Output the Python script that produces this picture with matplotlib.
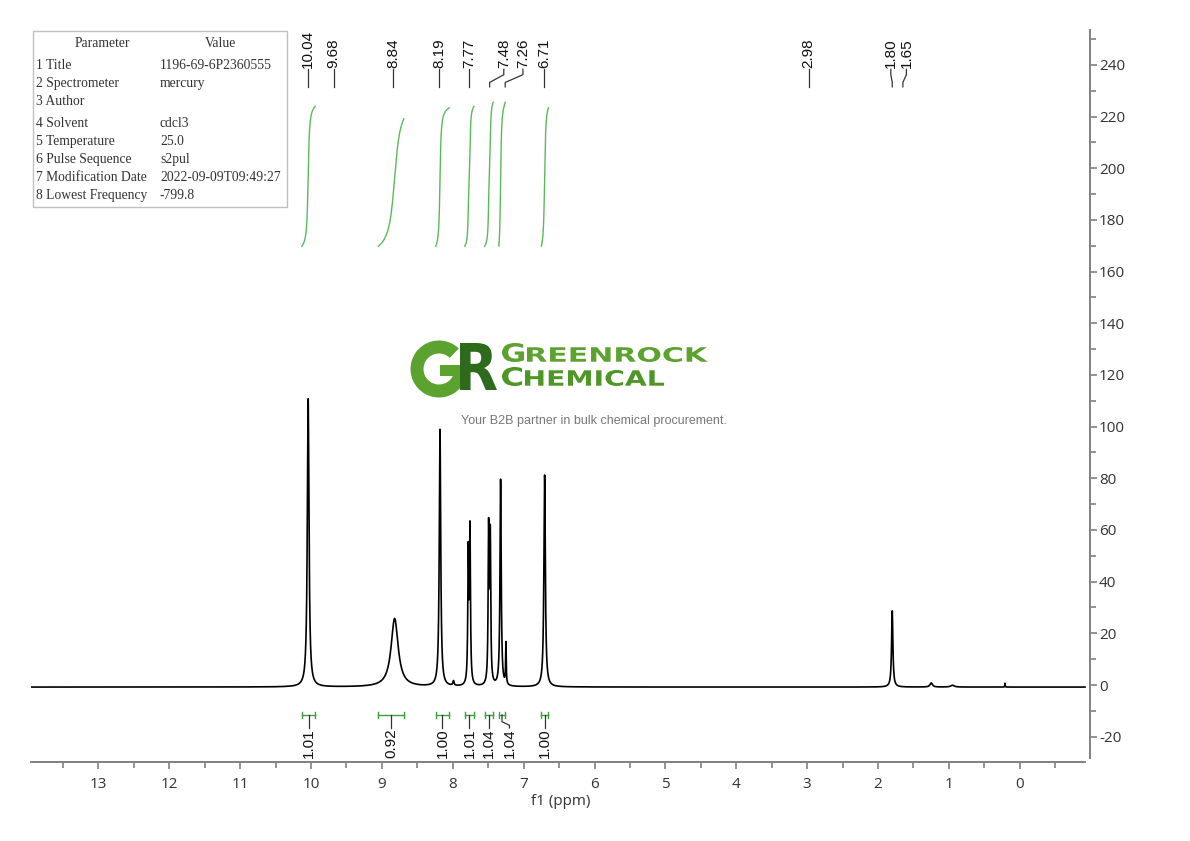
import numpy as np
import matplotlib
matplotlib.use("Agg")
import matplotlib.pyplot as plt
from matplotlib.patches import Rectangle, Wedge, PathPatch
from matplotlib.textpath import TextPath
from matplotlib.font_manager import FontProperties
from matplotlib.transforms import Affine2D
from matplotlib.ticker import MultipleLocator

plt.rcParams["axes.unicode_minus"] = False

# --- spectrum peaks (ppm, height, half width in ppm) ---
peak_ppm = [10.04, 8.82, 8.18, 7.99, 7.781, 7.757, 7.494, 7.471, 7.325, 7.25, 6.704, 1.80, 1.25, 0.95, 0.21]
peak_height = [111.5, 26.5, 99.5, 1.8, 50, 59, 59, 56, 80, 16, 82, 29.5, 1.6, 0.7, 1.5]
peak_hwhm = [0.014, 0.06, 0.012, 0.01, 0.008, 0.008, 0.008, 0.008, 0.010, 0.005, 0.012, 0.011, 0.02, 0.03, 0.003]
baseline_level = -0.8

# --- peak picking labels ---
label_ppm = [10.04, 9.68, 8.84, 8.19, 7.77, 7.48, 7.26, 6.71, 2.98, 1.80, 1.65]
label_text_ppm = [10.04, 9.68, 8.84, 8.19, 7.77, 7.28, 7.01, 6.71, 2.98, 1.82, 1.60]

# --- integrals: region (from, to) in ppm, value, label position ---
int_from = [10.13, 9.05, 8.24, 7.83, 7.55, 7.35, 6.75]
int_to = [9.94, 8.69, 8.05, 7.70, 7.43, 7.26, 6.65]
int_value = [1.01, 0.92, 1.00, 1.01, 1.04, 1.04, 1.00]
int_label_ppm = [10.035, 8.87, 8.145, 7.765, 7.49, 7.20, 6.70]

# --- parameter table ---
param_names = ["1 Title", "2 Spectrometer", "3 Author", "4 Solvent", "5 Temperature",
               "6 Pulse Sequence", "7 Modification Date", "8 Lowest Frequency"]
param_values = ["1196-69-6P2360555", "mercury", "", "cdcl3", "25.0",
                "s2pul", "2022-09-09T09:49:27", "-799.8"]
param_rows_y = [65, 83, 101, 123, 141, 159, 177, 195]

X_LEFT, X_RIGHT = 13.95, -0.99
Y_BOTTOM, Y_TOP = -29.8, 253.5
INT_BASE, INT_SCALE = 169.8, 53.6
GREEN = "#3f9f3f"
LABEL_FONT = "Liberation Sans"


def build_spectrum(x):
    y = np.full_like(x, baseline_level)
    for p, h, w in zip(peak_ppm, peak_height, peak_hwhm):
        y += h / (1.0 + ((x - p) / w) ** 2)
    return y


def text_in_box(ax, s, x0, y0, x1, y1, color, weight="bold"):
    """Draw text stretched into a pixel box (y axis inverted)."""
    tp = TextPath((0, 0), s, size=1, prop=FontProperties(family="DejaVu Sans", weight=weight))
    ext = tp.get_extents()
    sx = (x1 - x0) / ext.width
    sy = (y1 - y0) / ext.height
    tr = Affine2D().translate(-ext.x0, -ext.y0).scale(sx, -sy).translate(x0, y1)
    ax.add_patch(PathPatch(tr.transform_path(tp), facecolor=color, edgecolor="none"))


fig = plt.figure(figsize=(11.9, 8.41), dpi=100)

# pixel overlay for table and watermark
over = fig.add_axes([0, 0, 1, 1], zorder=0)
over.set_xlim(0, 1190)
over.set_ylim(841, 0)
over.axis("off")

ax = fig.add_axes([31 / 1190, 79 / 841, (1090 - 31) / 1190, (762 - 30) / 841], zorder=1)
ax.patch.set_alpha(0)

x = np.linspace(X_LEFT, -0.92, 30000)
y = build_spectrum(x)
ax.plot(x, y, color="black", lw=1.2)

# integral curves and brackets
for a, b, v, lp in zip(int_from, int_to, int_value, int_label_ppm):
    m = (x <= a) & (x >= b)
    seg = np.cumsum(y[m] - baseline_level)
    seg = seg / seg[-1] * v * INT_SCALE + INT_BASE
    ax.plot(x[m], seg, color="#5cb85c", lw=1.0)
    yb = -11.6
    ax.plot([a, b], [yb, yb], color=GREEN, lw=1.0, clip_on=False)
    ax.plot([a, a], [yb - 1.3, yb + 1.3], color=GREEN, lw=1.0, clip_on=False)
    ax.plot([b, b], [yb - 1.3, yb + 1.3], color=GREEN, lw=1.0, clip_on=False)
    c = (a + b) / 2
    ax.plot([c, c, lp, lp], [yb, -14.2, -15.6, -16.6], color="#333333", lw=0.9, clip_on=False)
    ax.text(lp, -16.9, f"{v:.2f}", rotation=90, ha="center", va="top",
            fontsize=11, family=LABEL_FONT, color="#111111")

# peak labels
for p, tp in zip(label_ppm, label_text_ppm):
    ax.plot([p, p, tp, tp], [231.5, 233.2, 236.2, 238.3], color="#333333", lw=0.9, clip_on=False)
    ax.text(tp, 238.8, f"{p:.2f}", rotation=90, ha="center", va="bottom",
            fontsize=11, family=LABEL_FONT, color="#111111")

ax.set_xlim(X_LEFT, X_RIGHT)
ax.set_ylim(Y_BOTTOM, Y_TOP)
for s in ["top", "left"]:
    ax.spines[s].set_visible(False)
for s in ["bottom", "right"]:
    ax.spines[s].set_color("#808080")
    ax.spines[s].set_linewidth(1.4)
ax.spines["bottom"].set_bounds(X_LEFT, -0.92)
ax.spines["right"].set_bounds(-28.3, Y_TOP)
ax.yaxis.tick_right()
ax.xaxis.set_major_locator(MultipleLocator(1))
ax.xaxis.set_minor_locator(MultipleLocator(0.5))
ax.yaxis.set_major_locator(MultipleLocator(20))
ax.yaxis.set_minor_locator(MultipleLocator(10))
ax.tick_params(which="both", direction="out", color="#808080", width=1.2,
               labelsize=11, labelcolor="#333333")
ax.tick_params(which="major", length=5)
ax.tick_params(which="minor", length=4)
ax.tick_params(axis="x", pad=6)
ax.tick_params(axis="y", pad=1.5)
for t in ax.get_xticklabels() + ax.get_yticklabels():
    t.set_family("Open Sans")
ax.set_xlabel("f1 (ppm)", fontsize=11, family="Open Sans", color="#333333", labelpad=1)

# parameter table
over.add_patch(Rectangle((33, 31), 254, 176, facecolor="white", edgecolor="#c0c0c0", lw=1.0))
tfont = dict(family="Liberation Serif", fontsize=9.8, color="#333333", va="center")
over.text(102, 43, "Parameter", ha="center", **tfont)
over.text(220, 43, "Value", ha="center", **tfont)
for name, val, ry in zip(param_names, param_values, param_rows_y):
    over.text(36, ry, name, ha="left", **tfont)
    over.text(160, ry, val, ha="left", **tfont)

# watermark logo
over.add_patch(Wedge((439, 369), 28.5, 0, 314, width=13, facecolor="#5ba22e", edgecolor="none"))
over.add_patch(Rectangle((440, 365), 27, 11, facecolor="#5ba22e", edgecolor="none"))
text_in_box(over, "R", 460, 343, 497, 390, "#2e6a1c")
text_in_box(over, "G", 502, 343, 524, 362, "#5ba22e")
text_in_box(over, "REENROCK", 527, 347, 708, 362, "#5ba22e")
text_in_box(over, "C", 502, 367, 522, 386, "#4e9626")
text_in_box(over, "HEMICAL", 525, 370, 664, 386, "#4e9626")
over.text(594, 421, "Your B2B partner in bulk chemical procurement.", ha="center", va="center",
          fontsize=9, family="Liberation Sans", color="#777777")

fig.savefig("out.png", dpi=100)
